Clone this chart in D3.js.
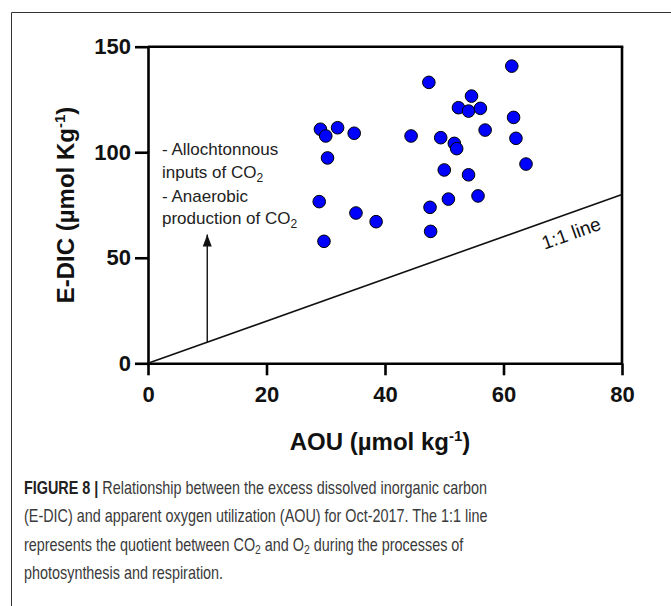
<!DOCTYPE html>
<html>
<head>
<meta charset="utf-8">
<script src="https://cdn.jsdelivr.net/npm/d3@7"></script>
<style>
  html, body { margin: 0; padding: 0; background: #fff; }
  svg { display: block; }
  text { font-family: "Liberation Sans", Arial, Helvetica, sans-serif; }
</style>
</head>
<body>
<svg id="fig" width="671" height="606"></svg>
<script>
// AOU (µmol kg-1) and E-DIC (µmol Kg-1) for each station, Oct-2017
const aou  = [29.1, 30.0, 32.0, 34.8, 30.3, 28.9, 35.1, 38.5, 29.7,
              61.4, 47.4, 54.6, 52.4, 54.1, 56.1, 61.7, 56.9, 44.4, 49.4,
              62.1, 51.7, 52.1, 63.8, 50.0, 54.1, 50.7, 55.7, 47.6, 47.7];
const edic = [110.9, 107.7, 111.6, 109.0, 97.3, 76.6, 71.2, 67.1, 57.8,
              140.8, 133.1, 126.6, 121.1, 119.5, 120.8, 116.5, 110.5, 107.7, 106.9,
              106.6, 104.2, 101.7, 94.4, 91.6, 89.3, 77.8, 79.3, 73.9, 62.5];

const xTicks = [0, 20, 40, 60, 80];
const yTicks = [0, 50, 100, 150];

// 1:1 reference line end points and the annotation arrow
const oneToOne = [[0, 0], [80, 80]];
const arrowX = 10, arrowFrom = 10, arrowTo = 61;

const svg = d3.select("#fig");

// figure panel border
svg.append("path")
  .attr("d", "M11.5,606 V12.5 H671")
  .attr("fill", "none").attr("stroke", "#333").attr("stroke-width", 1);

const x = d3.scaleLinear().domain([0, 80]).range([148, 622]);
const y = d3.scaleLinear().domain([0, 150]).range([363.3, 46.7]);

const axisW = 2.6;

// axes
const gx = svg.append("g").attr("transform", `translate(0,${y(0)})`)
  .call(d3.axisBottom(x).tickValues(xTicks).tickSize(12).tickSizeOuter(0).tickPadding(11));
const gy = svg.append("g").attr("transform", `translate(${x(0)},0)`)
  .call(d3.axisLeft(y).tickValues(yTicks).tickSize(13).tickSizeOuter(0).tickPadding(4));

[gx, gy].forEach(g => {
  g.select(".domain").attr("stroke", "#000").attr("stroke-width", axisW);
  g.selectAll(".tick line").attr("stroke", "#000").attr("stroke-width", axisW);
  g.selectAll(".tick text")
    .attr("fill", "#111")
    .style("font-size", "22px").style("font-weight", "bold")
    .style("font-family", "'Liberation Sans', Arial, sans-serif");
});

// top and right frame lines
svg.append("line")
  .attr("x1", x(0)).attr("x2", x(80) + axisW / 2).attr("y1", y(150)).attr("y2", y(150))
  .attr("stroke", "#000").attr("stroke-width", axisW);
svg.append("line")
  .attr("x1", x(80)).attr("x2", x(80)).attr("y1", y(150)).attr("y2", y(0))
  .attr("stroke", "#000").attr("stroke-width", axisW);

// 1:1 line
svg.append("line")
  .attr("x1", x(oneToOne[0][0])).attr("y1", y(oneToOne[0][1]))
  .attr("x2", x(oneToOne[1][0])).attr("y2", y(oneToOne[1][1]))
  .attr("stroke", "#111").attr("stroke-width", 1.6);

const angle = Math.atan2(y(80) - y(0), x(80) - x(0)) * 180 / Math.PI;
svg.append("text")
  .attr("transform", `translate(${x(70.3)},${y(70.3)}) rotate(${angle})`)
  .attr("text-anchor", "middle").attr("dy", 26)
  .attr("fill", "#111").style("font-size", "19px")
  .text("1:1 line");

// arrow
svg.append("line")
  .attr("x1", x(arrowX)).attr("x2", x(arrowX))
  .attr("y1", y(arrowFrom)).attr("y2", y(arrowTo))
  .attr("stroke", "#111").attr("stroke-width", 1.4);
svg.append("path")
  .attr("d", `M${x(arrowX) - 4.5},${y(arrowTo) + 12} L${x(arrowX)},${y(arrowTo)} L${x(arrowX) + 4.5},${y(arrowTo) + 12} Z`)
  .attr("fill", "#111");

// annotation
const noteX = 162;
const noteLines = [
  [{ t: "- Allochtonnous" }],
  [{ t: "inputs of CO" }, { t: "2", sub: true }],
  [{ t: "- Anaerobic" }],
  [{ t: "production of CO" }, { t: "2", sub: true }]
];
const noteBase = [155, 177.5, 201.5, 224];
noteLines.forEach((parts, i) => {
  const line = svg.append("text").attr("x", noteX).attr("y", noteBase[i])
    .attr("fill", "#222").style("font-size", "17px");
  parts.forEach(p => {
    const ts = line.append("tspan").text(p.t);
    if (p.sub) ts.attr("dy", 4).style("font-size", "12px");
  });
});

// data points
svg.append("g").selectAll("circle")
  .data(aou.map((a, i) => [a, edic[i]]))
  .join("circle")
  .attr("cx", d => x(d[0])).attr("cy", d => y(d[1]))
  .attr("r", 6.3)
  .attr("fill", "#0000ff").attr("stroke", "#000").attr("stroke-width", 1);

// axis titles
const yt = svg.append("text")
  .attr("transform", `translate(74,205) rotate(-90)`)
  .attr("text-anchor", "middle").attr("fill", "#111")
  .style("font-size", "24px").style("font-weight", "bold");
yt.append("tspan").text("E-DIC (µmol Kg");
yt.append("tspan").text("-1").attr("dy", -9).style("font-size", "15px");
yt.append("tspan").text(")").attr("dy", 9);

const xt = svg.append("text")
  .attr("x", 380).attr("y", 450)
  .attr("text-anchor", "middle").attr("fill", "#111")
  .style("font-size", "24px").style("font-weight", "bold");
xt.append("tspan").text("AOU (µmol kg");
xt.append("tspan").text("-1").attr("dy", -9).style("font-size", "15px");
xt.append("tspan").text(")").attr("dy", 9);

// figure caption, set in a condensed face (horizontally compressed)
const capBase = [494, 522.5, 551, 579];
const capLines = [
  [{ t: "FIGURE 8 | ", b: true }, { t: "Relationship between the excess dissolved inorganic carbon" }],
  [{ t: "(E-DIC) and apparent oxygen utilization (AOU) for Oct-2017. The 1:1 line" }],
  [{ t: "represents the quotient between CO" }, { t: "2", sub: true }, { t: " and O", up: true }, { t: "2", sub: true }, { t: " during the processes of", up: true }],
  [{ t: "photosynthesis and respiration." }]
];
const cap = svg.append("g").attr("transform", "translate(24,0) scale(0.8,1)");
capLines.forEach((parts, i) => {
  const line = cap.append("text")
    .attr("x", 0).attr("y", capBase[i])
    .attr("fill", "#3a3a3a").style("font-size", "18px");
  parts.forEach(p => {
    const ts = line.append("tspan").text(p.t);
    if (p.b) ts.style("font-weight", "bold").attr("fill", "#222");
    if (p.sub) ts.attr("dy", 3).style("font-size", "13px");
    if (p.up) ts.attr("dy", -3);
  });
});
</script>
</body>
</html>
